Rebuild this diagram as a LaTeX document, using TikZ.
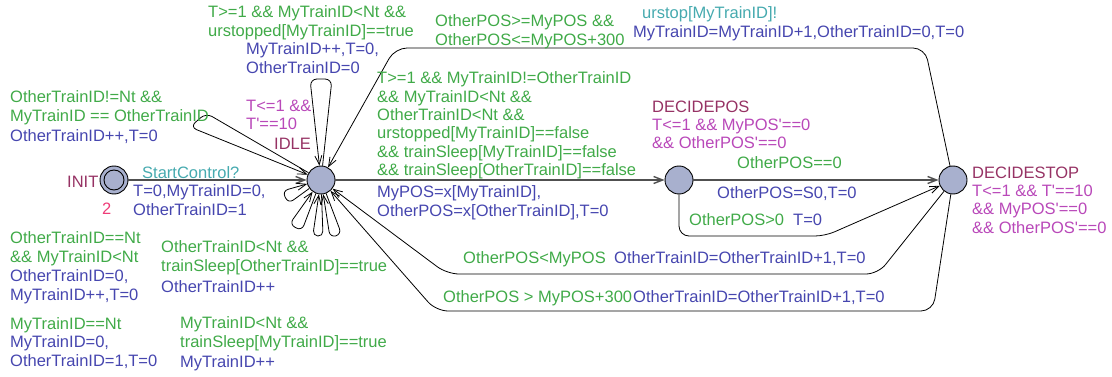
\documentclass[tikz,border=0pt]{standalone}
\usepackage{fontspec}
\setmainfont{Liberation Sans}
\usetikzlibrary{arrows.meta}
\definecolor{cg}{RGB}{64,170,72}
\definecolor{cb}{RGB}{70,70,175}
\definecolor{ct}{RGB}{70,170,175}
\definecolor{cm}{RGB}{185,72,185}
\definecolor{cn}{RGB}{150,50,100}
\definecolor{cp}{RGB}{238,60,120}
\definecolor{nodefill}{RGB}{168,176,206}
\definecolor{hline}{RGB}{80,80,80}
\begin{document}
\begin{tikzpicture}[x=1pt,y=-1pt,
  loc/.style={circle,draw=black,fill=nodefill,minimum size=28pt,inner sep=0pt,line width=0.9pt},
  lbl/.style={anchor=north west,inner sep=0pt,align=left,yshift=7.3pt,
     font=\fontsize{16.5}{18.3}\selectfont,execute at begin node=\strut},
  conn/.style={draw=black,line width=0.8pt,-{Straight Barb[length=9pt,width=7pt]}},
  hconn/.style={conn,draw=hline,line width=1.4pt},
  loopc/.style={conn,rounded corners=7pt}]
\useasboundingbox (0,0) rectangle (1112,377);

% locations
\node[loc] (init) at (114,180) {};
\node[circle,draw=black,fill=nodefill,minimum size=20pt,inner sep=0pt,line width=0.9pt] (initin) at (114,180) {};
\node[loc] (idle) at (321,180) {};
\node[loc] (dpos) at (679,180) {};
\node[loc] (dstop) at (953,180) {};

% straight edges
\draw[hconn] (init) -- (idle);
\draw[hconn] (idle) -- (dpos);
\draw[hconn] (dpos) -- (dstop);

% bent edges
\draw[conn,rounded corners=10pt] (dpos.south) -- (679,236) -- (825,236) -- (dstop);
\draw[conn,rounded corners=12pt] (dstop) -- (925,48) -- (395,48) -- (idle);
\draw[conn,rounded corners=12pt] (dstop) -- (878,274) -- (447,274) -- (idle);
\draw[conn,rounded corners=12pt] (dstop) -- (933,311) -- (436,311) -- (idle);

% self loops on IDLE
\draw[loopc] (idle) -- (206,113) -- (190,127) -- (idle);
\draw[loopc] (idle) -- (332,79) -- (310,79) -- (idle);
\draw[loopc,rounded corners=6pt] (idle) -- (288.4,203.6) -- (282.2,191.0) -- (idle);
\draw[loopc,rounded corners=6pt] (idle) -- (301.8,230.9) -- (289.4,224.3) -- (idle);
\draw[loopc,rounded corners=5pt] (idle) -- (323,236.3) -- (312.8,235.7) -- (idle);
\draw[loopc,rounded corners=6pt] (idle) -- (341.6,234.3) -- (330,237.5) -- (idle);

% location names and invariants
\node[lbl,text=cn] (ninit) at (67,182) {INIT};
\node[lbl,text=cp] (ninit2) at (102,209) {2};
\node[lbl,text=cn] (nidle) at (274,144) {IDLE};
\node[lbl,text=cm] (iidle) at (246,107) {T<=1 \&\&\\T\textquotesingle==10};
\node[lbl,text=cn] (ndpos) at (652,107) {DECIDEPOS};
\node[lbl,text=cm] (idpos) at (652,126) {T<=1 \&\& MyPOS\textquotesingle==0\\\&\& OtherPOS\textquotesingle==0};
\node[lbl,text=cn] (ndstop) at (972,173) {DECIDESTOP};
\node[lbl,text=cm] (idstop) at (972,192) {T<=1 \&\& T\textquotesingle==10\\\&\& MyPOS\textquotesingle==0\\\&\& OtherPOS\textquotesingle==0};

% INIT -> IDLE
\node[lbl,text=ct] (s1) at (142,173) {StartControl?};
\node[lbl,text=cb] (u1) at (133,192) {T=0,MyTrainID=0,\\OtherTrainID=1};

% IDLE -> DECIDEPOS
\node[lbl,text=cg] (g2) at (377,79) {T>=1 \&\& MyTrainID!=OtherTrainID\\\&\& MyTrainID<Nt \&\&\\OtherTrainID<Nt \&\&\\urstopped[MyTrainID]==false\\\&\& trainSleep[MyTrainID]==false\\\&\& trainSleep[OtherTrainID]==false};
\node[lbl,text=cb] (u2) at (377,193) {MyPOS=x[MyTrainID],\\OtherPOS=x[OtherTrainID],T=0};

% DECIDEPOS -> DECIDESTOP
\node[lbl,text=cg] (g3) at (737,163) {OtherPOS==0};
\node[lbl,text=cb] (u3) at (717,193) {OtherPOS=S0,T=0};
\node[lbl,text=cg] (g4) at (689,220) {OtherPOS>0};
\node[lbl,text=cb] (u4) at (793,220) {T=0};

% DECIDESTOP -> IDLE (top)
\node[lbl,text=cg] (g5) at (435,22) {OtherPOS>=MyPOS \&\&\\OtherPOS<=MyPOS+300};
\node[lbl,text=ct] (s5) at (642,13) {urstop[MyTrainID]!};
\node[lbl,text=cb] (u5) at (633,32) {MyTrainID=MyTrainID+1,OtherTrainID=0,T=0};

% DECIDESTOP -> IDLE (bottom)
\node[lbl,text=cg] (g6) at (463,258) {OtherPOS<MyPOS};
\node[lbl,text=cb] (u6) at (614,258) {OtherTrainID=OtherTrainID+1,T=0};
\node[lbl,text=cg] (g7) at (443,297) {OtherPOS > MyPOS+300};
\node[lbl,text=cb] (u7) at (633,297) {OtherTrainID=OtherTrainID+1,T=0};

% self-loop labels
\node[lbl,text=cg] (g8) at (208,13) {T>=1 \&\& MyTrainID<Nt \&\&\\urstopped[MyTrainID]==true};
\node[lbl,text=cb] (u8) at (246,50) {MyTrainID++,T=0,\\OtherTrainID=0};
\node[lbl,text=cg] (g9) at (10,98) {OtherTrainID!=Nt \&\&\\MyTrainID == OtherTrainID};
\node[lbl,text=cb] (u9) at (10,136) {OtherTrainID++,T=0};
\node[lbl,text=cg] (g10) at (10,239) {OtherTrainID==Nt\\\&\& MyTrainID<Nt};
\node[lbl,text=cb] (u10) at (10,277) {OtherTrainID=0,\\MyTrainID++,T=0};
\node[lbl,text=cg] (g11) at (161,248) {OtherTrainID<Nt \&\&\\trainSleep[OtherTrainID]==true};
\node[lbl,text=cb] (u11) at (161,287) {OtherTrainID++};
\node[lbl,text=cg] (g12) at (10,324) {MyTrainID==Nt};
\node[lbl,text=cb] (u12) at (10,343) {MyTrainID=0,\\OtherTrainID=1,T=0};
\node[lbl,text=cg] (g13) at (180,324) {MyTrainID<Nt \&\&\\trainSleep[MyTrainID]==true};
\node[lbl,text=cb] (u13) at (180,362) {MyTrainID++};
\end{tikzpicture}
\end{document}
